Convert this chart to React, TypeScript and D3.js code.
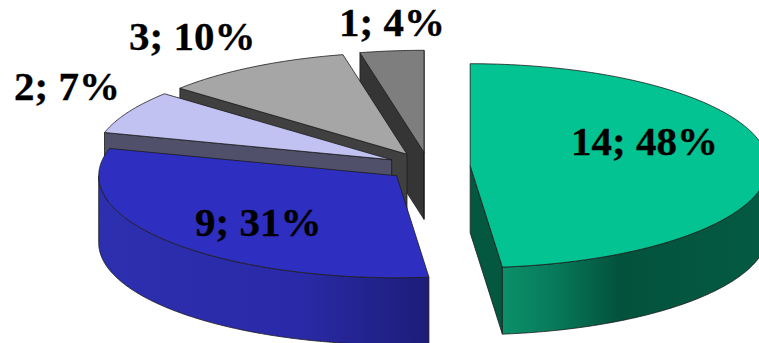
import React from "react";
import * as d3 from "d3";

// Counts per group, clockwise from twelve o'clock, with their printed shares
const counts = [14, 9, 2, 3, 1];
const shares = ["48%", "31%", "7%", "10%", "4%"];

// Fill colours per slice
const topColors = ["#02c391", "#2e2ec0", "#c1c1f2", "#a6a6a6", "#7e7e7e"];
const wallColors = ["#04583f", "#1f1f80", "#50506a", "#404040", "#353535"];

// Label anchors (left edge, baseline) per slice
const labelX = [571, 195, 14, 129, 339];
const labelY = [155, 236, 100, 50, 36];

const WIDTH = 759;
const HEIGHT = 343;
const CX = 428.5;
const CY = 166.5;
const RX = 298;
const RY = 102;
const DEPTH = 67;
const EXPLODE = 0.14;

const pieAngles = d3.pie<number>().sort(null).value((d) => d)(counts);

const project = (c: [number, number], a: number, dy = 0): [number, number] => [
  c[0] + RX * Math.sin(a),
  c[1] - RY * Math.cos(a) + dy,
];

const sweep = (a0: number, a1: number) => {
  const n = Math.max(2, Math.ceil(Math.abs(a1 - a0) / 0.01));
  return d3.range(n + 1).map((i) => a0 + ((a1 - a0) * i) / n);
};

const line = d3.line<[number, number]>();

const slices = pieAngles.map((p, i) => {
  const mid = (p.startAngle + p.endAngle) / 2;
  const centre: [number, number] = [
    CX + EXPLODE * RX * Math.sin(mid),
    CY - EXPLODE * RY * Math.cos(mid),
  ];
  const top = line([
    centre,
    ...sweep(p.startAngle, p.endAngle).map((a) => project(centre, a)),
  ])! + "Z";

  // Radial faces turned towards the viewer
  const radial = (a: number) =>
    line([
      centre,
      project(centre, a),
      project(centre, a, DEPTH),
      [centre[0], centre[1] + DEPTH],
    ])! + "Z";
  const walls: string[] = [];
  if (Math.sin(p.startAngle) < 0) walls.push(radial(p.startAngle));
  if (Math.sin(p.endAngle) > 0) walls.push(radial(p.endAngle));

  // Rim visible on the near half of the ellipse
  const rimFrom = Math.max(p.startAngle, Math.PI / 2);
  const rimTo = Math.min(p.endAngle, (3 * Math.PI) / 2);
  const rim =
    rimTo > rimFrom
      ? line([
          ...sweep(rimFrom, rimTo).map((a) => project(centre, a)),
          ...sweep(rimTo, rimFrom).map((a) => project(centre, a, DEPTH)),
        ])! + "Z"
      : null;
  return { i, top, walls, rim };
});

const edge = { stroke: "#1c1c1c", strokeWidth: 0.8, strokeLinejoin: "round" as const };

export default function App() {
  return (
    <svg
      width={WIDTH}
      height={HEIGHT}
      viewBox={`0 0 ${WIDTH} ${HEIGHT}`}
      style={{ position: "absolute", left: 0, top: 0, background: "#fff" }}
    >
      <defs>
        <linearGradient id="rim0" gradientUnits="userSpaceOnUse" x1={503} x2={759} y1={0} y2={0}>
          <stop offset="0" stopColor="#0b9069" />
          <stop offset="0.2" stopColor="#077a5a" />
          <stop offset="0.45" stopColor="#03523c" />
          <stop offset="1" stopColor="#045a42" />
        </linearGradient>
        <linearGradient id="rim1" gradientUnits="userSpaceOnUse" x1={99} x2={430} y1={0} y2={0}>
          <stop offset="0" stopColor="#2c2fae" />
          <stop offset="0.6" stopColor="#2a2aa8" />
          <stop offset="1" stopColor="#1c1c78" />
        </linearGradient>
      </defs>
      {[...slices].reverse().map((s) => (
        <g key={s.i}>
          {s.walls.map((d, k) => (
            <path key={k} d={d} fill={wallColors[s.i]} {...edge} />
          ))}
          {s.rim && <path d={s.rim} fill={`url(#rim${s.i})`} {...edge} />}
          <path d={s.top} fill={topColors[s.i]} {...edge} />
        </g>
      ))}
      {counts.map((c, i) => (
        <text
          key={i}
          x={labelX[i]}
          y={labelY[i]}
          fontFamily="'Liberation Serif', serif"
          fontWeight="bold"
          fontSize={41}
          stroke="#000"
          strokeWidth={0.3}
          fill="#000"
        >
          {`${c}; ${shares[i]}`}
        </text>
      ))}
    </svg>
  );
}
